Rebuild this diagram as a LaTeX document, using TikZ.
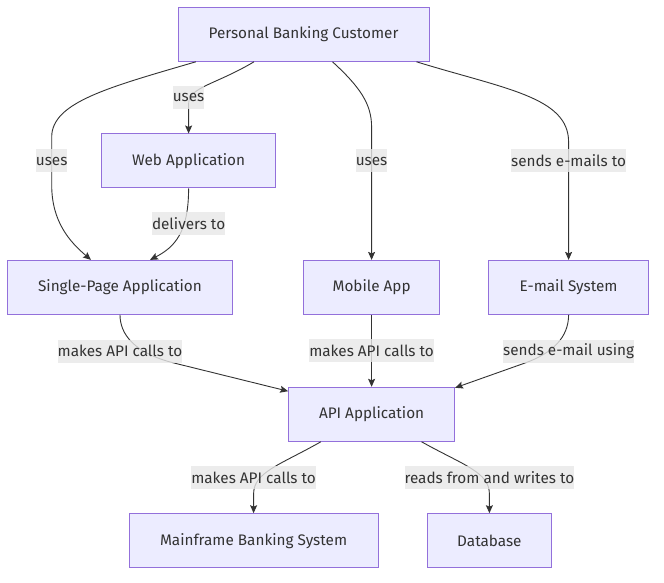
\documentclass[tikz,border=0pt]{standalone}
\usepackage{fontspec}
\setmainfont{Fira Sans}
\usetikzlibrary{arrows.meta}
\definecolor{boxfill}{HTML}{ECECFF}
\definecolor{boxline}{HTML}{9370DB}
\definecolor{lblfill}{HTML}{E8E8E8}
\definecolor{ink}{HTML}{333333}

\begin{document}
\begin{tikzpicture}[x=1pt, y=1pt,
    box/.style={draw=boxline, fill=boxfill, line width=1pt, minimum height=54pt,
      inner sep=0pt, text=ink, font=\fontsize{15.3}{17}\selectfont},
    lbl/.style={fill=lblfill, fill opacity=0.8, text opacity=1, text=ink,
      inner xsep=0pt, inner ysep=0pt, minimum height=23pt, font=\fontsize{15.3}{17}\selectfont},
    link/.style={draw=ink, line width=0.9pt, -{Stealth[length=8pt, width=7pt, inset=1.5pt]}}]
  \path[use as bounding box, fill=white] (0,0) rectangle (664,582);

  \node [box, minimum width=251pt]   (cust) at (303.5,547.7) {Personal Banking Customer};
  \node [box, minimum width=174pt]   (web)  at (188.6,421)   {Web Application};
  \node [box, minimum width=224.6pt] (spa)  at (120,294.6)   {Single-Page Application};
  \node [box, minimum width=136.4pt] (mob)  at (371.6,294.6) {Mobile App};
  \node [box, minimum width=159.3pt] (mail) at (568.6,294.6) {E-mail System};
  \node [box, minimum width=166pt]   (api)  at (371.6,167.7) {API Application};
  \node [box, minimum width=248.8pt] (main) at (253.6,41.3)  {Mainframe Banking System};
  \node [box, minimum width=124.7pt] (db)   at (489.4,41.3)  {Database};

  \draw[link] ([xshift=-107.7pt]cust.south) .. controls (110,495) and (51.7,480) .. (51.7,445)
    -- (51.7,397) .. controls (51.7,360) and (70,340) .. ([xshift=-29pt]spa.north)
    node [lbl] (l1) at (51.7,421) {uses};
  \draw[link] ([xshift=-49.5pt]cust.south) .. controls (215,497) and (188.6,495) .. (188.6,478)
    -- (web.north)
    node [lbl] (l2) at (188.6,484.3) {uses};
  \draw[link] ([xshift=29pt]cust.south) .. controls (360,495) and (371.6,478) .. (371.6,455)
    -- (mob.north)
    node [lbl] (l3) at (371.6,421) {uses};
  \draw[link] ([xshift=113pt]cust.south) .. controls (505,493) and (568.6,485) .. (568.6,440)
    -- (mail.north)
    node [lbl] (l4) at (568.6,421) {sends e-mails to};
  \draw[link] (web.south) .. controls (188.6,350) and (175,335) .. ([xshift=30pt]spa.north)
    node [lbl] (l5) at (188.6,358) {delivers to};

  \draw[link] (spa.south) .. controls (120,248) and (134,229) .. (174,219)
    -- ([yshift=-4.4pt]api.north west)
    node [lbl] (l6) at (120,231) {makes API calls to};
  \draw[link] (mob.south) -- node [lbl] (l7) {makes API calls to} (api.north);
  \draw[link] (mail.south) .. controls (568.6,245) and (553,229) .. (525,219)
    -- ([yshift=-1pt]api.north east)
    node [lbl] (l8) at (568.6,231) {sends e-mail using};

  \draw[link] ([xshift=-50.8pt]api.south) .. controls (280,117) and (253.6,110) .. (253.6,88)
    -- (main.north)
    node [lbl] (l9) at (253.6,104.3) {makes API calls to};
  \draw[link] ([xshift=50pt]api.south) .. controls (463,117) and (489.4,110) .. (489.4,88)
    -- (db.north)
    node [lbl] (l10) at (489.4,104.3) {reads from and writes to};
\end{tikzpicture}
\end{document}
